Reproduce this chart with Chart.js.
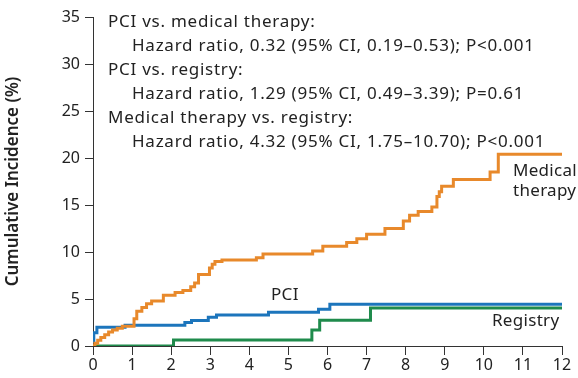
<!DOCTYPE html>
<html>
<head>
<meta charset="utf-8">
<script src="https://cdn.jsdelivr.net/npm/chart.js@4"></script>
<style>
html,body{margin:0;padding:0;background:#fff;}
canvas{display:block;}
</style>
</head>
<body>
<canvas id="c" width="578" height="378"></canvas>
<script>
// Months since randomization
const xTicks = [0,1,2,3,4,5,6,7,8,9,10,11,12];
const yTicks = [0,5,10,15,20,25,30,35];

// Kaplan-Meier style step curves: [month, cumulative incidence %]
const medicalTherapy = [
  [0,0],[0.05,0.3],[0.12,0.6],[0.2,0.9],[0.3,1.2],[0.4,1.5],[0.5,1.7],[0.62,1.9],[0.75,2.1],
  [1.05,2.9],[1.12,3.7],[1.25,4.1],[1.37,4.5],[1.5,4.8],[1.8,5.4],[2.1,5.7],[2.3,5.9],
  [2.5,6.3],[2.6,6.7],[2.7,7.6],[2.98,8.3],[3.05,8.7],[3.12,9.0],[3.3,9.15],[4.18,9.4],
  [4.35,9.8],[5.62,10.1],[5.88,10.6],[6.49,11.0],[6.75,11.4],[7.0,11.9],[7.47,12.5],
  [7.94,13.3],[8.1,13.9],[8.32,14.3],[8.67,14.8],[8.8,15.9],[8.86,16.4],[8.92,17.0],
  [9.22,17.7],[10.16,18.5],[10.37,20.4],[12,20.4]
];
const pci = [
  [0,0.5],[0.02,1.4],[0.1,2.0],[0.82,2.2],[2.35,2.5],[2.52,2.7],[2.95,3.05],[3.16,3.3],
  [4.49,3.6],[5.77,3.9],[6.06,4.45],[12,4.45]
];
const registry = [
  [0,0],[2.06,0.65],[5.6,1.7],[5.8,2.75],[7.1,4.05],[12,4.05]
];

const hrLines = [
  ["PCI vs. medical therapy:", 0],
  ["Hazard ratio, 0.32 (95% CI, 0.19\u20130.53); P<0.001", 1],
  ["PCI vs. registry:", 0],
  ["Hazard ratio, 1.29 (95% CI, 0.49\u20133.39); P=0.61", 1],
  ["Medical therapy vs. registry:", 0],
  ["Hazard ratio, 4.32 (95% CI, 1.75\u201310.70); P<0.001", 1]
];

const FONT = "'Noto Sans', Lato, sans-serif";
const TEXT = '#222';

const toPts = a => a.map(p => ({x:p[0], y:p[1]}));

const textPlugin = {
  id: 'texts',
  afterDraw(chart) {
    const ctx = chart.ctx;
    ctx.save();
    ctx.fillStyle = TEXT;
    ctx.font = "17px " + FONT;
    ctx.textBaseline = 'middle';
    ctx.textAlign = 'left';
    ctx.letterSpacing = '0.75px';
    hrLines.forEach((l, i) => {
      ctx.fillText(l[0], 108 + l[1]*24, 22 + i*24);
    });
    ctx.letterSpacing = '0.3px';
    ctx.fillText("Medical", 513, 171);
    ctx.fillText("therapy", 513, 191);
    ctx.fillText("PCI", 271, 295);
    ctx.fillText("Registry", 492, 321);
    ctx.restore();
  }
};

new Chart(document.getElementById('c'), {
  type: 'line',
  data: {
    datasets: [
      {label:'Medical therapy', data: toPts(medicalTherapy), borderColor:'#E8892B'},
      {label:'PCI', data: toPts(pci), borderColor:'#1C75BC'},
      {label:'Registry', data: toPts(registry), borderColor:'#1F8B4C'}
    ].map(d => Object.assign(d, {stepped:'before', borderWidth:3, pointRadius:0, fill:false, tension:0}))
  },
  options: {
    responsive:false,
    animation:false,
    layout:{padding:{left:0,right:16,top:17,bottom:0}},
    plugins:{legend:{display:false}, tooltip:{enabled:false}},
    scales:{
      x:{
        type:'linear', min:0, max:12,
        afterBuildTicks(s){ s.ticks = xTicks.map(v=>({value:v})); },
        afterFit(s){ s.height = 32; },
        grid:{display:true, drawOnChartArea:false, drawTicks:true, tickLength:9, color:'#333', lineWidth:1},
        border:{display:true, color:'#333', width:1},
        ticks:{color:TEXT, font:{family:FONT, size:16}, padding:1, maxRotation:0}
      },
      y:{
        type:'linear', min:0, max:35,
        afterBuildTicks(s){ s.ticks = yTicks.map(v=>({value:v})); },
        afterFit(s){ s.width = 93; },
        grid:{display:true, drawOnChartArea:false, drawTicks:true, tickLength:8, color:'#333', lineWidth:1},
        border:{display:true, color:'#333', width:1},
        ticks:{color:TEXT, font:{family:FONT, size:16}, padding:5},
        title:{display:true, text:'Cumulative Incidence (%)', color:TEXT,
               font:{family:FONT, size:17, weight:'600'}, padding:{top:3,bottom:0}}
      }
    }
  },
  plugins:[textPlugin]
});
</script>
</body>
</html>
